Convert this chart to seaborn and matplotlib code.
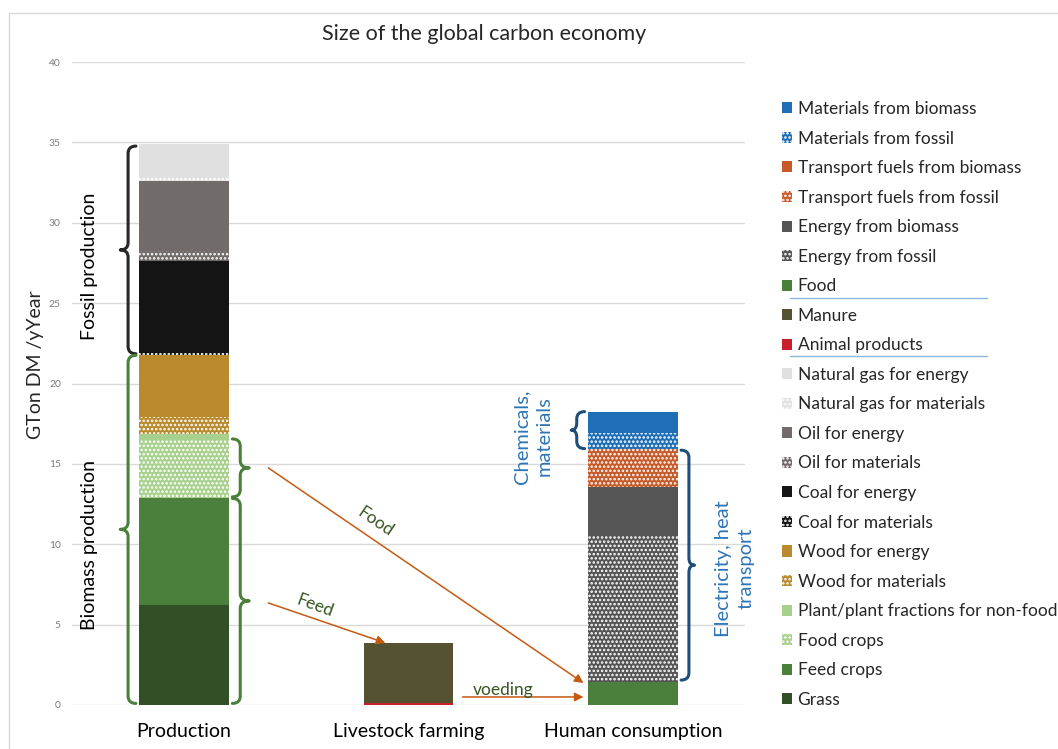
import numpy as np
import pandas as pd
import matplotlib
matplotlib.use('Agg')
import matplotlib.pyplot as plt
from matplotlib.patches import Patch, PathPatch
from matplotlib.path import Path
from matplotlib.lines import Line2D
import seaborn as sns

# Data (GTon dry matter per year), stacked bottom to top
categories = ['Production', 'Livestock farming', 'Human consumption']

prod_parts = ['Grass', 'Feed crops', 'Food crops', 'Plant/plant fractions for non-food',
              'Wood for materials', 'Wood for energy', 'Coal for materials', 'Coal for energy',
              'Oil for materials', 'Oil for energy', 'Natural gas for materials', 'Natural gas for energy']
prod_values = [6.2, 6.7, 3.65, 0.3, 1.05, 3.9, 0.12, 5.7, 0.6, 4.35, 0.25, 2.05]

livestock_parts = ['Animal products', 'Manure']
livestock_values = [0.15, 3.7]

consumption_parts = ['Food', 'Energy from fossil', 'Energy from biomass', 'Transport fuels from fossil',
                     'Transport fuels from biomass', 'Materials from fossil', 'Materials from biomass']
consumption_values = [1.45, 9.1, 3.0, 2.35, 0.0, 1.0, 1.35]

colors = {
    'Grass': '#324F26', 'Feed crops': '#4B803C', 'Food crops': '#A8D08D',
    'Plant/plant fractions for non-food': '#A8D08D',
    'Wood for materials': '#B98B2E', 'Wood for energy': '#B98B2E',
    'Coal for materials': '#141414', 'Coal for energy': '#141414',
    'Oil for materials': '#716B6A', 'Oil for energy': '#716B6A',
    'Natural gas for materials': '#E0E0E0', 'Natural gas for energy': '#E0E0E0',
    'Animal products': '#C8202A', 'Manure': '#545230',
    'Food': '#4B803C', 'Energy from fossil': '#555555', 'Energy from biomass': '#555555',
    'Transport fuels from fossil': '#C65A28', 'Transport fuels from biomass': '#C65A28',
    'Materials from fossil': '#1E6FB5', 'Materials from biomass': '#1E6FB5',
}
hatched = ['Food crops', 'Wood for materials', 'Coal for materials', 'Oil for materials',
           'Natural gas for materials', 'Energy from fossil', 'Transport fuels from fossil',
           'Materials from fossil']

rows = []
for cat, parts, vals in zip(categories,
                            [prod_parts, livestock_parts, consumption_parts],
                            [prod_values, livestock_values, consumption_values]):
    bottoms = np.concatenate([[0], np.cumsum(vals)[:-1]])
    for p, v, b in zip(parts, vals, bottoms):
        rows.append({'category': cat, 'part': p, 'value': v, 'bottom': b})
df = pd.DataFrame(rows)

sns.set_theme(style='white')
plt.rcParams['font.family'] = ['Lato', 'DejaVu Sans']
plt.rcParams['hatch.linewidth'] = 1.2

fig = plt.figure(figsize=(10.58, 7.49), dpi=100)
ax = fig.add_axes([72 / 1058, 1 - 705 / 749, (745 - 72) / 1058, (705 - 62) / 749])

for _, r in df.iterrows():
    hatch = '....' if r['part'] in hatched else None
    sns.barplot(x=[r['category']], y=[r['value']], order=categories, bottom=r['bottom'],
                color=colors[r['part']], hatch=hatch, edgecolor='white', linewidth=0,
                width=0.4, saturation=1, ax=ax)

ax.set_ylim(0, 40)
ax.set_xlim(-0.5, 2.5)
ax.set_yticks(range(0, 41, 5))
ax.yaxis.grid(True, color='#D9D9D9', linewidth=1)
ax.set_axisbelow(True)
for s in ax.spines.values():
    s.set_visible(False)
ax.tick_params(axis='y', labelsize=7.5, labelcolor='#7F7F7F', length=0, pad=8)
ax.tick_params(axis='x', labelsize=14, labelcolor='black', length=0, pad=13)
ax.set_xlabel('')
ax.set_ylabel('GTon DM /yYear', fontsize=14)
ax.yaxis.set_label_coords(-0.042, 0.53)
fig.text(484 / 1058, 1 - 34 / 749, 'Size of the global carbon economy', fontsize=15.5,
         ha='center', va='center')

# chart border (Excel style)
fig.add_artist(Line2D([9 / 1058, 9 / 1058], [0, 1 - 13 / 749], color='#D9D9D9', lw=1))
fig.add_artist(Line2D([9 / 1058, 1], [1 - 13 / 749, 1 - 13 / 749], color='#D9D9D9', lw=1))


def brace(ax, x_edge, y0, y1, side, color, width=0.085):
    # curly brace next to a bar, tip pointing away from the bar
    d = -1 if side == 'left' else 1
    xe = x_edge + d * 0.015
    xs = x_edge + d * 0.05
    xt = x_edge + d * width
    ym = (y0 + y1) / 2
    r = 0.45
    verts = [(xe, y1), (xs, y1), (xs, y1 - r),
             (xs, ym + r),
             (xs, ym), (xt, ym),
             (xs, ym), (xs, ym - r),
             (xs, y0 + r),
             (xs, y0), (xe, y0)]
    codes = [Path.MOVETO, Path.CURVE3, Path.CURVE3,
             Path.LINETO,
             Path.CURVE3, Path.CURVE3,
             Path.CURVE3, Path.CURVE3,
             Path.LINETO,
             Path.CURVE3, Path.CURVE3]
    ax.add_patch(PathPatch(Path(verts, codes), fill=False, edgecolor=color, lw=2.2,
                           capstyle='round', joinstyle='round', clip_on=False))


prod_cum = np.cumsum(prod_values)
cons_cum = np.cumsum(consumption_values)
half = 0.2
brace(ax, -half, prod_cum[5] + 0.05, prod_cum[-1] - 0.1, 'left', '#262626')
brace(ax, -half, 0.1, prod_cum[5] - 0.05, 'left', '#4B803C')
brace(ax, half, prod_cum[1] + 0.05, prod_cum[2], 'right', '#4B803C', width=0.09)
brace(ax, half, 0.1, prod_cum[1] - 0.05, 'right', '#4B803C', width=0.09)
brace(ax, 2 - half, cons_cum[4] + 0.05, cons_cum[-1], 'left', '#1F4E79', width=0.075)
brace(ax, 2 + half, cons_cum[0] + 0.1, cons_cum[4] - 0.05, 'right', '#1F4E79', width=0.075)

ax.text(-0.42, 27.3, 'Fossil production', rotation=90, ha='center', va='center',
        fontsize=14, color='black')
ax.text(-0.42, 9.95, 'Biomass production', rotation=90, ha='center', va='center',
        fontsize=14, color='black')
ax.text(1.554, 16.7, 'Chemicals,\nmaterials', rotation=90, ha='center', va='center',
        fontsize=14.5, color='#2E75B6', linespacing=1.35)
ax.text(2.455, 8.5, 'Electricity, heat\ntransport', rotation=90, ha='center', va='center',
        fontsize=14.5, color='#2E75B6', linespacing=1.35)

# flows
arrow_kw = dict(arrowstyle='-|>', color='#C55A11', lw=1.1, mutation_scale=13,
                shrinkA=0, shrinkB=0)
ax.annotate('', xy=(1.78, 1.37), xytext=(0.375, 14.75), arrowprops=arrow_kw)
ax.annotate('', xy=(0.897, 3.86), xytext=(0.375, 6.35), arrowprops=arrow_kw)
ax.annotate('', xy=(1.78, 0.5), xytext=(1.241, 0.5), arrowprops=arrow_kw)
ax.text(0.853, 11.4, 'Food', rotation=-34, ha='center', va='center', fontsize=12.5,
        color='#375623', rotation_mode='anchor')
ax.text(0.585, 6.16, 'Feed', rotation=-20, ha='center', va='center', fontsize=12.5,
        color='#375623', rotation_mode='anchor')
ax.text(1.424, 0.93, 'voeding', ha='center', va='center', fontsize=12.5, color='#375623')

# legend, top to bottom = reverse of stacking order
legend_order = (prod_parts + livestock_parts + consumption_parts)[::-1]
handles = [Patch(facecolor=colors[p], hatch='....' if p in hatched else None,
                 edgecolor='white', linewidth=0, label=p) for p in legend_order]
fig.legend(handles=handles, loc='upper left', bbox_to_anchor=(782 / 1058, 1 - 101 / 749),
           frameon=False, fontsize=12.5, handlelength=0.6, handleheight=0.6,
           handletextpad=0.3, labelspacing=0.78, borderaxespad=0, borderpad=0)
for yy in [298, 356]:
    fig.add_artist(Line2D([790 / 1058, 987 / 1058], [1 - yy / 749, 1 - yy / 749],
                          color='#8AB6E0', lw=1))

fig.savefig('out.png', dpi=100)
